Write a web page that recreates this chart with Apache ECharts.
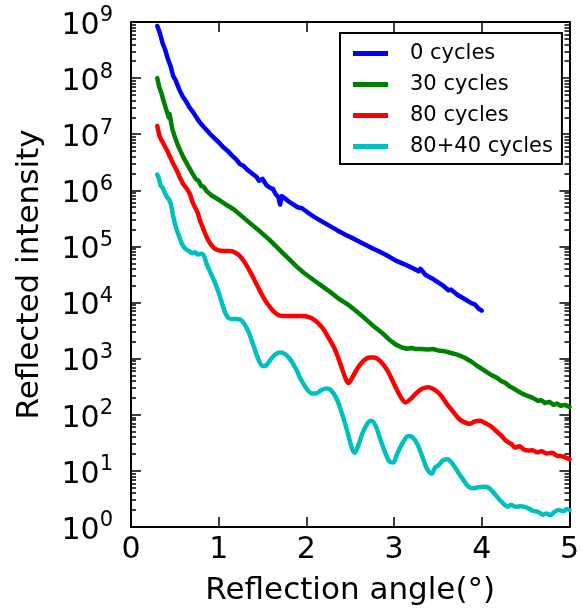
<!DOCTYPE html>
<html><head><meta charset="utf-8">
<script src="https://cdn.jsdelivr.net/npm/echarts@6/dist/echarts.min.js"></script>
<style>html,body{margin:0;padding:0;background:#fff}#c{width:582px;height:611px}</style>
</head><body><div id="c"></div>
<script>
const seriesNames = ['0 cycles', '30 cycles', '80 cycles', '80+40 cycles'];
const seriesColors = ['#0000ff', '#008000', '#ff0000', '#00bfbf'];
const xTicks = [0, 1, 2, 3, 4, 5];
const yMajorTicks = [1, 10, 100, 1e3, 1e4, 1e5, 1e6, 1e7, 1e8, 1e9];
const xTitle = 'Reflection angle(°)';
const yTitle = 'Reflected intensity';

const cycles0 = [[0.30,8.5e8],[0.33,6.3e8],[0.36,4.2e8],[0.39,3.2e8],[0.42,2.2e8],[0.45,1.66e8],[0.48,1.1e8],[0.51,9.1e7],[0.55,6.3e7],[0.59,4.7e7],[0.63,3.8e7],[0.67,2.95e7],[0.71,2.45e7],[0.745,2.0e7],[0.78,1.66e7],[0.82,1.4e7],[0.86,1.2e7],[0.90,1.02e7],[0.95,8.5e6],[1.00,7.2e6],[1.05,5.9e6],[1.10,5.1e6],[1.15,4.2e6],[1.20,3.55e6],[1.24,2.95e6],[1.28,2.75e6],[1.33,2.3e6],[1.38,2.0e6],[1.43,1.75e6],[1.46,1.48e6],[1.50,1.6e6],[1.54,1.26e6],[1.58,1.12e6],[1.62,1.05e6],[1.65,8.5e5],[1.68,7.6e5],[1.70,5.6e5],[1.72,7.9e5],[1.76,7.1e5],[1.80,6.3e5],[1.85,5.6e5],[1.90,5.0e5],[1.95,4.8e5],[2.00,4.2e5],[2.07,3.5e5],[2.15,2.95e5],[2.25,2.4e5],[2.35,1.95e5],[2.445,1.62e5],[2.55,1.35e5],[2.65,1.12e5],[2.75,9.3e4],[2.82,8.3e4],[2.92,6.9e4],[3.02,5.6e4],[3.12,4.8e4],[3.20,4.2e4],[3.28,3.6e4],[3.30,4.0e4],[3.36,3.1e4],[3.45,2.6e4],[3.55,2.05e4],[3.62,1.66e4],[3.65,1.7e4],[3.72,1.38e4],[3.80,1.17e4],[3.88,9.8e3],[3.92,9.3e3],[3.96,7.9e3],[4.00,7.2e3]];
const cycles30 = [[0.30,1.0e8],[0.32,7.1e7],[0.35,5.2e7],[0.37,4.0e7],[0.40,2.8e7],[0.43,2.0e7],[0.44,2.3e7],[0.47,1.26e7],[0.50,8.9e6],[0.53,6.6e6],[0.57,4.8e6],[0.61,3.55e6],[0.65,2.75e6],[0.70,2.0e6],[0.74,1.58e6],[0.77,1.48e6],[0.80,1.2e6],[0.83,1.15e6],[0.86,9.8e5],[0.92,8.1e5],[1.00,6.8e5],[1.08,5.6e5],[1.17,4.6e5],[1.27,3.4e5],[1.37,2.5e5],[1.47,1.86e5],[1.57,1.35e5],[1.65,1.02e5],[1.72,7.9e4],[1.80,6.0e4],[1.88,4.5e4],[1.97,3.4e4],[2.07,2.6e4],[2.17,2.0e4],[2.27,1.55e4],[2.37,1.17e4],[2.47,9.3e3],[2.56,7.2e3],[2.65,5.5e3],[2.75,4.0e3],[2.86,2.9e3],[2.95,2.15e3],[3.02,1.78e3],[3.09,1.58e3],[3.15,1.5e3],[3.20,1.55e3],[3.25,1.48e3],[3.31,1.48e3],[3.38,1.45e3],[3.45,1.48e3],[3.52,1.38e3],[3.58,1.35e3],[3.65,1.26e3],[3.73,1.17e3],[3.80,1.05e3],[3.88,890],[3.95,740],[4.02,630],[4.07,560],[4.12,500],[4.17,460],[4.22,400],[4.27,370],[4.32,320],[4.37,290],[4.42,260],[4.48,230],[4.53,215],[4.58,200],[4.64,178],[4.68,182],[4.72,162],[4.77,170],[4.82,150],[4.86,158],[4.90,145],[4.95,150],[5.00,138]];
const cycles80 = [[0.30,1.4e7],[0.33,8.9e6],[0.37,6.8e6],[0.41,5.2e6],[0.45,3.8e6],[0.48,3.0e6],[0.52,2.3e6],[0.56,1.66e6],[0.60,1.26e6],[0.64,1.05e6],[0.67,8.7e5],[0.70,6.3e5],[0.73,5.0e5],[0.76,4.0e5],[0.79,2.8e5],[0.82,2.15e5],[0.86,1.5e5],[0.90,1.15e5],[0.95,9.3e4],[1.00,8.5e4],[1.06,8.3e4],[1.12,8.3e4],[1.18,7.9e4],[1.24,6.8e4],[1.30,5.1e4],[1.37,3.3e4],[1.44,2.0e4],[1.50,1.32e4],[1.56,9.3e3],[1.62,7.1e3],[1.68,6.0e3],[1.75,5.75e3],[1.85,5.75e3],[1.95,5.75e3],[2.03,5.5e3],[2.10,4.8e3],[2.18,3.6e3],[2.25,2.4e3],[2.33,1.41e3],[2.40,710],[2.45,430],[2.48,370],[2.52,450],[2.58,660],[2.65,910],[2.72,1050],[2.77,1050],[2.84,910],[2.92,630],[3.00,355],[3.07,215],[3.13,166],[3.18,186],[3.25,240],[3.32,290],[3.39,310],[3.46,280],[3.53,225],[3.60,158],[3.67,115],[3.74,85],[3.80,74],[3.86,69],[3.92,76],[3.98,78],[4.04,71],[4.10,63],[4.16,52],[4.22,43],[4.28,34],[4.34,30],[4.38,26],[4.43,27.5],[4.48,24],[4.53,23],[4.58,23.4],[4.63,21.4],[4.68,22.4],[4.74,20.4],[4.80,21],[4.86,18.6],[4.92,18.2],[5.00,16.2]];
const cycles80p40 = [[0.30,1.9e6],[0.32,1.58e6],[0.34,1.2e6],[0.36,1.12e6],[0.38,9.5e5],[0.41,7.6e5],[0.44,6.6e5],[0.46,5.2e5],[0.48,3.55e5],[0.50,2.6e5],[0.52,2.0e5],[0.55,1.5e5],[0.58,1.12e5],[0.62,9.1e4],[0.66,8.3e4],[0.70,7.6e4],[0.73,7.9e4],[0.76,7.2e4],[0.80,7.4e4],[0.83,6.9e4],[0.86,5.0e4],[0.90,3.6e4],[0.95,2.4e4],[1.00,1.5e4],[1.04,9.5e3],[1.08,6.3e3],[1.12,5.2e3],[1.18,5.1e3],[1.24,5.0e3],[1.30,4.0e3],[1.35,2.75e3],[1.40,1.66e3],[1.45,1.0e3],[1.50,740],[1.53,740],[1.58,910],[1.64,1170],[1.70,1290],[1.76,1200],[1.82,950],[1.88,660],[1.94,420],[2.00,295],[2.06,240],[2.11,240],[2.17,275],[2.23,295],[2.28,275],[2.34,200],[2.39,126],[2.44,71],[2.48,42],[2.52,25],[2.55,21],[2.59,28],[2.64,47],[2.70,71],[2.74,78],[2.79,63],[2.84,38],[2.90,21],[2.95,14.5],[2.99,14.1],[3.04,21],[3.10,32],[3.16,42],[3.21,40],[3.27,29],[3.33,16.6],[3.38,10.5],[3.43,8.9],[3.47,11.7],[3.50,12.3],[3.56,15.5],[3.61,16.2],[3.67,13.2],[3.73,9.5],[3.79,6.9],[3.85,5.2],[3.90,4.9],[3.96,5.1],[4.02,5.2],[4.08,5.0],[4.14,4.0],[4.20,3.1],[4.26,2.5],[4.30,2.3],[4.33,2.5],[4.38,2.3],[4.45,2.35],[4.52,2.2],[4.58,1.95],[4.64,1.86],[4.70,1.66],[4.74,1.74],[4.78,1.62],[4.83,1.86],[4.88,2.0],[4.93,1.9],[4.97,2.1],[5.00,2.0]];
const seriesData = [cycles0, cycles30, cycles80, cycles80p40];

const FONT = 'DejaVu Sans';
const yMinorTicks = [];
for (let k = 0; k < 9; k++) for (let m = 2; m <= 9; m++) yMinorTicks.push(m * Math.pow(10, k));

const chart = echarts.init(document.getElementById('c'), null, {renderer: 'canvas'});
const axisLineStyle = {color: '#000', width: 2};
const tickStyle = {color: '#000', width: 1.5};

function yAxisDef(position, major, showLabel) {
  return {
    type: 'log', logBase: 10, min: 1, max: 1e9, position: position, offset: 0,
    axisLine: {show: major, onZero: false, lineStyle: axisLineStyle},
    axisTick: {show: true, inside: true, length: major ? 10 : 5, lineStyle: tickStyle,
               customValues: major ? yMajorTicks : yMinorTicks},
    axisLabel: showLabel ? {
      show: true, margin: 18, customValues: yMajorTicks,
      formatter: function (v) { return '{b|10}{s|' + Math.round(Math.log10(v)) + '}'; },
      rich: {
        b: {fontSize: 30, fontFamily: FONT, color: '#000', padding: [8, 0, 0, 0]},
        s: {fontSize: 21, fontFamily: FONT, color: '#000', padding: [0, 0, 12, 0]}
      }
    } : {show: false},
    splitLine: {show: false},
    name: showLabel ? yTitle : '',
    nameLocation: 'middle', nameGap: 86,
    nameTextStyle: {fontSize: 31, fontFamily: FONT, color: '#000'}
  };
}

function xAxisDef(position, showLabel) {
  return {
    type: 'value', min: 0, max: 5, interval: 1, position: position, offset: 0,
    axisLine: {show: true, onZero: false, lineStyle: axisLineStyle},
    axisTick: {show: true, inside: true, length: 10, lineStyle: tickStyle, customValues: xTicks},
    axisLabel: showLabel ? {show: true, fontSize: 30, fontFamily: FONT, color: '#000', margin: 8,
                             customValues: xTicks} : {show: false},
    splitLine: {show: false},
    name: showLabel ? xTitle : '', nameLocation: 'middle', nameGap: 48,
    nameTextStyle: {fontSize: 31, fontFamily: FONT, color: '#000'}
  };
}

const option = {
  animation: false,
  backgroundColor: '#fff',
  grid: {left: 131, right: 10, top: 22, bottom: 83},
  legend: {
    show: true, orient: 'vertical', left: 340, top: 33,
    data: seriesNames, icon: 'rect', itemWidth: 35, itemHeight: 5, itemGap: 10,
    padding: [10, 9, 7, 13], borderColor: '#000', borderWidth: 2, backgroundColor: '#fff',
    textStyle: {fontSize: 21, fontFamily: FONT, color: '#000', padding: [0, 0, 0, 17]}
  },
  xAxis: [xAxisDef('bottom', true), xAxisDef('top', false)],
  yAxis: [
    yAxisDef('left', true, true),
    yAxisDef('right', true, false),
    yAxisDef('left', false, false),
    yAxisDef('right', false, false)
  ],
  series: seriesNames.map((n, i) => ({
    name: n, type: 'line', xAxisIndex: 0, yAxisIndex: 0,
    data: seriesData[i], showSymbol: false, symbol: 'none',
    smooth: i >= 2 ? 0.3 : false,
    color: seriesColors[i],
    lineStyle: {width: 4.5, color: seriesColors[i], join: 'round', cap: 'round'},
    itemStyle: {color: seriesColors[i]},
    z: 2 + i
  }))
};
chart.setOption(option);
</script></body></html>
